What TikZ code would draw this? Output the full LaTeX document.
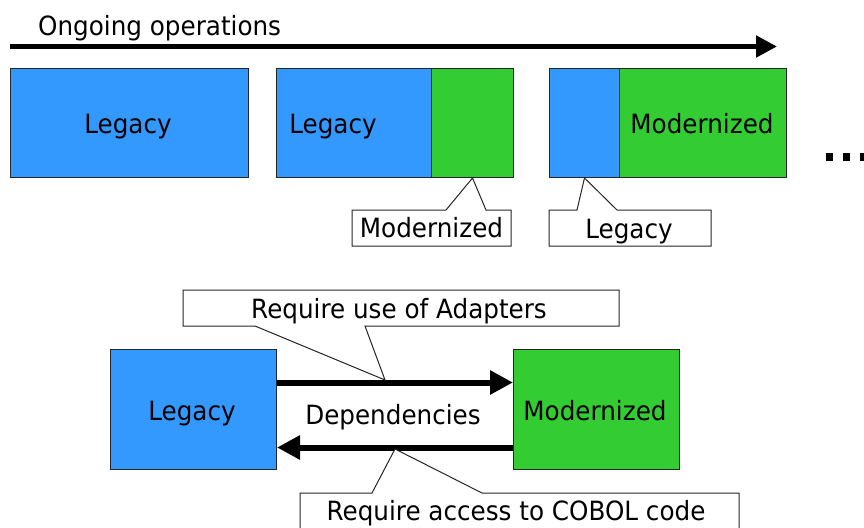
\documentclass[tikz,border=0pt]{standalone}
\usepackage{fontspec}
\setmainfont{DejaVu Sans}[FakeStretch=0.93]
\usetikzlibrary{arrows.meta}
\definecolor{legblue}{HTML}{3399FF}
\definecolor{modgreen}{HTML}{33CC33}
\tikzset{
  blk/.style={draw=black!85, line width=1pt, anchor=north west, inner sep=0pt},
  bluebox/.style={blk, fill=legblue},
  greenbox/.style={blk, fill=modgreen},
  lbl/.style={inner sep=0pt, anchor=base, font=\fontsize{26.5}{30}\selectfont},
  callout/.style={draw=black!85, line width=1pt, fill=white, line join=miter},
  bigarrow/.style={line width=6pt, -{Triangle[length=23pt, width=23pt]}},
  dot/.style={fill=black, minimum width=7pt, minimum height=8pt, inner sep=0pt}
}
\begin{document}
\begin{tikzpicture}[x=1pt, y=-1pt]
\useasboundingbox (0,0) rectangle (864,527);
\fill[white] (0,0) rectangle (864,527);

% title arrow
\node[lbl, anchor=base west] (title) at (38,36) {Ongoing operations};
\coordinate (ts) at (10,46.5);
\coordinate (te) at (777,46.5);
\draw[line width=5pt, -{Triangle[length=21pt, width=21pt]}] (ts) -- (te);

% row 1
\node[bluebox, minimum width=238pt, minimum height=109pt] (b1) at (10,68) {};
\node[lbl] (t1) at (128,133) {Legacy};

\node[bluebox, minimum width=155pt, minimum height=109pt] (b2) at (276,68) {};
\node[greenbox, minimum width=82pt, minimum height=109pt] (g2) at (431,68) {};
\node[lbl] (t2) at (333,133) {Legacy};

\node[bluebox, minimum width=70pt, minimum height=109pt] (b3) at (549,68) {};
\node[greenbox, minimum width=167pt, minimum height=109pt] (g3) at (619,68) {};
\node[lbl] (t3) at (702,133) {Modernized};

\node[dot] (d1) at (829.5,157) {};
\node[dot] (d2) at (846.5,157) {};
\node[dot] (d3) at (863.5,157) {};

% callouts row 1
\draw[callout] (352,210) -- (446,210) -- (g2.south) -- (486,210) -- (511,210) -- (511,246) -- (352,246) -- cycle;
\node[lbl] (c1) at (431.5,237) {Modernized};
\draw[callout] (549,210) -- (577,210) -- (b3.south) -- (617,210) -- (711,210) -- (711,246) -- (549,246) -- cycle;
\node[lbl] (c2) at (629,238) {Legacy};

% bottom diagram
\node[bluebox, minimum width=166pt, minimum height=120pt] (L) at (110,349) {};
\node[lbl] (tL) at (192,420) {Legacy};
\node[greenbox, minimum width=166pt, minimum height=120pt] (M) at (513,349) {};
\node[lbl] (tM) at (595,420) {Modernized};

\draw[bigarrow] ([yshift=27pt]L.east) -- ([yshift=27pt]M.west);
\draw[bigarrow] ([yshift=-38pt]M.west) -- ([yshift=-38pt]L.east);
\node[lbl] (dep) at (393,424) {Dependencies};

\coordinate (tipA) at (385,380);
\draw[callout] (183,290) -- (619,290) -- (619,326) -- (365,326) -- (tipA) -- (255,326) -- (183,326) -- cycle;
\node[lbl] (cA) at (399,318) {Require use of Adapters};

\coordinate (tipB) at (395,449);
\draw[callout] (300,493) -- (372,493) -- (tipB) -- (482,493) -- (739,493) -- (739,532) -- (300,532) -- cycle;
\node[lbl] (cB) at (516,520) {Require access to COBOL code};
\end{tikzpicture}
\end{document}
